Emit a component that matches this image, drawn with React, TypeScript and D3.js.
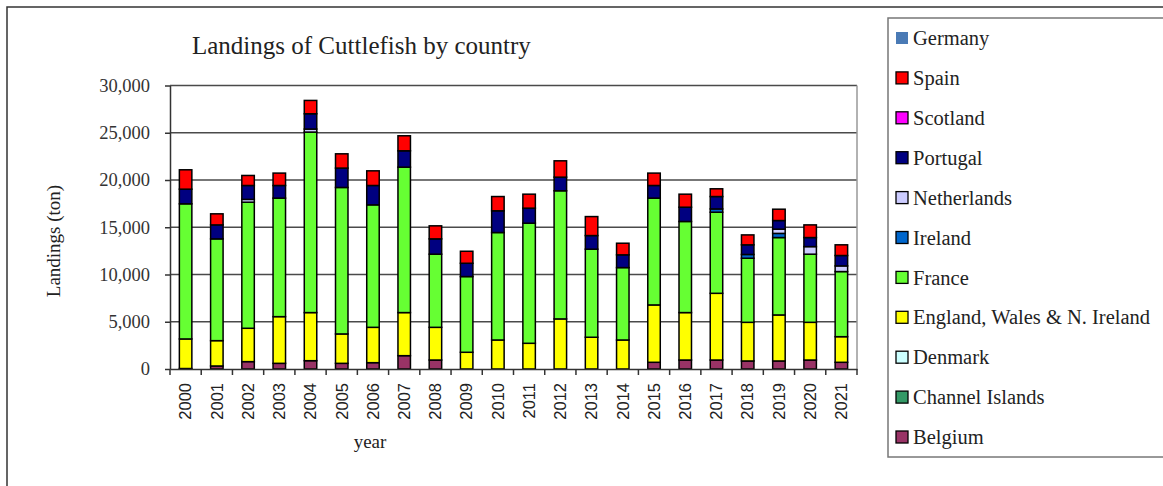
import { useEffect, useRef } from 'react';
import * as d3 from 'd3';

const years = ['2000', '2001', '2002', '2003', '2004', '2005', '2006', '2007', '2008', '2009', '2010',
  '2011', '2012', '2013', '2014', '2015', '2016', '2017', '2018', '2019', '2020', '2021'];

const belgium = [50, 320, 780, 600, 880, 600, 670, 1410, 950, 0, 0, 0, 0, 0, 0, 710, 950, 950, 850, 850, 950, 710];
const channelIslands = [0, 0, 0, 0, 0, 0, 0, 0, 0, 0, 0, 0, 0, 0, 0, 0, 0, 0, 0, 0, 0, 0];
const denmark = [0, 0, 0, 0, 0, 0, 0, 0, 0, 0, 0, 0, 0, 0, 0, 0, 0, 0, 0, 0, 0, 0];
const england = [3130, 2680, 3530, 4940, 5090, 3110, 3740, 4560, 3460, 1770, 3070, 2720, 5300, 3360, 3070, 6070, 5020, 7060, 4090, 4870, 3990, 2710];
const france = [14300, 10770, 13340, 12540, 19100, 15500, 12960, 15390, 7740, 8010, 11370, 12710, 13560, 9320, 7660, 11300, 9640, 8580, 6780, 8190, 7210, 6890];
const ireland = [0, 0, 0, 0, 0, 0, 0, 0, 0, 0, 0, 0, 0, 0, 0, 0, 0, 350, 400, 440, 0, 0];
const netherlands = [0, 0, 300, 0, 320, 0, 0, 0, 0, 0, 0, 0, 0, 0, 0, 0, 0, 0, 0, 450, 800, 600];
const portugal = [1550, 1480, 1470, 1340, 1620, 2050, 2050, 1730, 1620, 1410, 2300, 1590, 1440, 1440, 1350, 1340, 1510, 1310, 1020, 910, 960, 1100];
const scotland = [0, 0, 0, 0, 0, 0, 0, 0, 0, 0, 0, 0, 0, 0, 0, 0, 0, 0, 0, 0, 0, 0];
const spain = [2050, 1170, 1060, 1310, 1410, 1510, 1550, 1590, 1380, 1270, 1510, 1480, 1730, 2010, 1230, 1310, 1380, 820, 1050, 1200, 1340, 1130];
const germany = [0, 0, 0, 0, 0, 0, 0, 0, 0, 0, 0, 0, 0, 0, 0, 0, 0, 0, 0, 0, 0, 0];

const yTicks = [0, 5000, 10000, 15000, 20000, 25000, 30000];

// stacking order, bottom first
const series = [
  { key: 'Belgium', values: belgium, color: '#993366' },
  { key: 'Channel Islands', values: channelIslands, color: '#339966' },
  { key: 'Denmark', values: denmark, color: '#ccffff' },
  { key: 'England, Wales & N. Ireland', values: england, color: '#ffff00' },
  { key: 'France', values: france, color: '#66ff33' },
  { key: 'Ireland', values: ireland, color: '#0066cc' },
  { key: 'Netherlands', values: netherlands, color: '#ccccff' },
  { key: 'Portugal', values: portugal, color: '#000080' },
  { key: 'Scotland', values: scotland, color: '#ff00ff' },
  { key: 'Spain', values: spain, color: '#ff0000' },
  { key: 'Germany', values: germany, color: '#4a7ab5' },
];

const serif = '"Liberation Serif", "Times New Roman", serif';

export default function App() {
  const svgRef = useRef<SVGSVGElement | null>(null);

  useEffect(() => {
    if (!svgRef.current) return;
    const svg = d3.select(svgRef.current);
    svg.selectAll('*').remove();

    const W = 1163, H = 486;
    const plot = { left: 170, right: 857, top: 85.5, bottom: 369 };

    svg.append('rect').attr('width', W).attr('height', H).attr('fill', '#fff');

    // outer frame
    svg.append('path')
      .attr('d', `M7,${H} V7 H${W}`)
      .attr('fill', 'none').attr('stroke', '#333').attr('stroke-width', 1.5);

    const table = years.map((year, i) => {
      const row: any = { year };
      series.forEach(s => { row[s.key] = s.values[i]; });
      return row;
    });

    const x = d3.scaleBand().domain(years).range([plot.left, plot.right]).paddingInner(0.6).paddingOuter(0.3);
    const band = d3.scaleBand().domain(years).range([plot.left, plot.right]);
    const y = d3.scaleLinear().domain([0, 30000]).range([plot.bottom, plot.top]);

    // grid
    svg.append('g')
      .selectAll('line')
      .data(yTicks.slice(1))
      .enter()
      .append('line')
      .attr('x1', plot.left).attr('x2', plot.right)
      .attr('y1', d => y(d)).attr('y2', d => y(d))
      .attr('stroke', '#4a4a4a').attr('stroke-width', 1.5);

    // right border of plot area
    svg.append('line')
      .attr('x1', plot.right).attr('x2', plot.right)
      .attr('y1', plot.top).attr('y2', plot.bottom)
      .attr('stroke', '#999').attr('stroke-width', 1.5);

    const stacked = d3.stack().keys(series.map(s => s.key))(table);

    stacked.forEach((layer, li) => {
      svg.append('g')
        .selectAll('rect')
        .data(layer.filter(d => d[1] - d[0] > 0))
        .enter()
        .append('rect')
        .attr('x', d => x(d.data.year as string)!)
        .attr('width', x.bandwidth())
        .attr('y', d => y(d[1]))
        .attr('height', d => y(d[0]) - y(d[1]))
        .attr('fill', series[li].color)
        .attr('stroke', '#000')
        .attr('stroke-width', 1.5);
    });

    // y axis
    const yAxis = svg.append('g')
      .attr('transform', `translate(${plot.left},0)`)
      .call(d3.axisLeft(y).tickValues(yTicks).tickSize(5).tickSizeOuter(0).tickPadding(15)
        .tickFormat(d => d3.format(',')(d as number)));
    yAxis.select('.domain').attr('stroke', '#333').attr('stroke-width', 1.5);
    yAxis.selectAll('.tick line').attr('stroke', '#333').attr('stroke-width', 1.5);
    yAxis.selectAll('.tick text')
      .attr('font-family', serif).attr('font-size', 18.5).attr('fill', '#333');

    // x axis
    const xAxis = svg.append('g')
      .attr('transform', `translate(0,${plot.bottom})`)
      .call(d3.axisBottom(band).tickSize(0).tickSizeOuter(0));
    xAxis.select('.domain').attr('stroke', '#333').attr('stroke-width', 1.5);
    xAxis.selectAll('.tick text')
      .attr('font-family', '"Liberation Sans", Arial, sans-serif')
      .attr('font-size', 16.5)
      .attr('fill', '#222')
      .attr('text-anchor', 'end')
      .attr('transform', 'rotate(-90)')
      .attr('x', -14).attr('y', 0).attr('dy', '0.35em');
    svg.append('g')
      .selectAll('line')
      .data(years.concat(['end']))
      .enter()
      .append('line')
      .attr('x1', (d, i) => plot.left + i * band.bandwidth())
      .attr('x2', (d, i) => plot.left + i * band.bandwidth())
      .attr('y1', plot.bottom).attr('y2', plot.bottom + 6)
      .attr('stroke', '#333').attr('stroke-width', 1.5);

    // titles
    svg.append('text')
      .attr('x', 192).attr('y', 54)
      .attr('font-family', serif).attr('font-size', 25).attr('fill', '#222')
      .text('Landings of Cuttlefish by country');
    svg.append('text')
      .attr('transform', 'translate(60,241) rotate(-90)')
      .attr('text-anchor', 'middle')
      .attr('font-family', serif).attr('font-size', 19).attr('fill', '#222')
      .text('Landings (ton)');
    svg.append('text')
      .attr('x', 370).attr('y', 448)
      .attr('text-anchor', 'middle')
      .attr('font-family', serif).attr('font-size', 19).attr('fill', '#222')
      .text('year');

    // legend
    const lg = svg.append('g');
    lg.append('rect')
      .attr('x', 888).attr('y', 18).attr('width', 290).attr('height', 439)
      .attr('fill', '#fff').attr('stroke', '#777').attr('stroke-width', 1.5);
    const legendItems = series.slice().reverse();
    const item = lg.selectAll('g.item')
      .data(legendItems)
      .enter()
      .append('g')
      .attr('transform', (d, i) => `translate(896,${38 + i * 39.9})`);
    item.append('rect')
      .attr('x', 0).attr('y', -6).attr('width', 12).attr('height', 12)
      .attr('fill', d => d.color)
      .attr('stroke', d => (d.key === 'Germany' ? 'none' : '#000'))
      .attr('stroke-width', 1.3);
    item.append('text')
      .attr('x', 17).attr('y', 0).attr('dy', '0.35em')
      .attr('font-family', serif).attr('font-size', 20.5).attr('fill', '#222')
      .text(d => d.key);
  }, []);

  return (
    <svg ref={svgRef} width={1163} height={486}
      style={{ position: 'absolute', left: 0, top: 0, display: 'block' }} />
  );
}
